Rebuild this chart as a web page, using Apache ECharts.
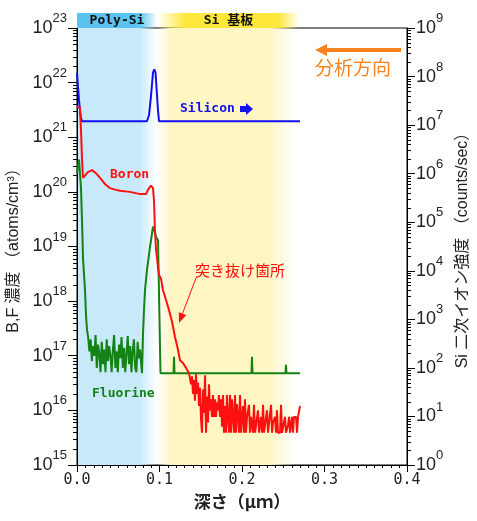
<!DOCTYPE html>
<html><head><meta charset="utf-8">
<script src="https://cdn.jsdelivr.net/npm/echarts@6/dist/echarts.min.js"></script>
<style>html,body{margin:0;padding:0;background:#fff}#c{width:477px;height:521px}</style>
</head><body><div id="c"></div>
<script>
// ---- data (depth in µm) ----
const siliconDepth = [0, 0.0012, 0.0024, 0.0036, 0.0048, 0.0061, 0.0848, 0.0873, 0.0897, 0.0921, 0.0937, 0.0952, 0.0970, 0.0982, 0.0994, 0.2703];
const siliconCounts = [1.18e8, 6.1e7, 3.3e7, 2.0e7, 1.4e7, 1.2e7, 1.2e7, 1.6e7, 4.0e7, 1.2e8, 1.4e8, 1.2e8, 4.0e7, 2.0e7, 1.2e7, 1.2e7];

const boronDepth = [0, 0.0036, 0.0048, 0.0061, 0.0073, 0.0097, 0.0133, 0.0182, 0.0230, 0.0279, 0.0339, 0.0400, 0.0461, 0.0521, 0.0642, 0.0764, 0.0836, 0.0861, 0.0897, 0.0921, 0.0933, 0.0945, 0.0958, 0.0970, 0.0982, 0.0994, 0.1018, 0.1042, 0.1079, 0.1115, 0.1152, 0.1188, 0.1224, 0.1248, 0.1285, 0.1321, 0.1358,
  0.1370, 0.1382, 0.1394, 0.1406, 0.1418, 0.1430, 0.1442, 0.1455, 0.1467, 0.1479, 0.1491, 0.1503, 0.1515, 0.1527, 0.1539, 0.1552, 0.1564, 0.1576, 0.1588, 0.1600, 0.1612, 0.1624, 0.1636, 0.1648, 0.1661, 0.1673, 0.1685, 0.1697, 0.1709, 0.1721, 0.1733, 0.1745, 0.1758, 0.1770, 0.1782, 0.1794, 0.1806, 0.1818, 0.1830, 0.1842, 0.1855, 0.1867, 0.1879, 0.1891, 0.1903, 0.1915, 0.1927, 0.1939, 0.1952, 0.1964, 0.1976, 0.1988, 0.2000, 0.2012, 0.2024, 0.2036, 0.2048, 0.2061, 0.2085, 0.2097, 0.2109, 0.2121, 0.2133, 0.2145, 0.2158, 0.2182, 0.2194, 0.2206, 0.2230, 0.2242, 0.2255, 0.2267, 0.2279, 0.2303, 0.2315, 0.2339, 0.2352, 0.2364, 0.2376, 0.2400, 0.2412, 0.2424, 0.2436, 0.2461, 0.2473, 0.2485, 0.2509, 0.2521, 0.2533, 0.2558, 0.2570, 0.2582, 0.2606, 0.2618, 0.2630, 0.2655, 0.2667, 0.2679, 0.2691, 0.2703];
const boronConc = [3.6e21, 3.5e21, 1.4e21, 3.9e20, 1.8e20, 1.95e20, 2.3e20, 2.5e20, 2.2e20, 1.8e20, 1.4e20, 1.17e20, 1.1e20, 1.05e20, 1.0e20, 9.1e19, 9.1e19, 1.1e20, 1.3e20, 1.17e20, 7.1e19, 2.0e19, 8.7e18, 6.2e18, 4.1e18, 3.0e18, 2.6e18, 1.6e18, 1.05e18, 6.9e17, 4.2e17, 2.2e17, 1.3e17, 8.3e16, 7.4e16, 6.0e16, 4.8e16,
  4.8e16, 3.0e16, 4.2e16, 2.0e16, 3.6e16, 1.5e16, 4.6e16, 2.0e16, 3.2e16, 1.2e16, 2.6e16, 7e15, 3.9e15, 2.4e16, 9e15, 4.4e16, 3.9e15, 1.8e16, 6e15, 3.0e16, 1.0e16, 1.6e16, 7.6e15, 1.9e16, 7.6e15, 1.6e16, 7.6e15, 1.4e16, 1.0e16, 1.9e16, 7.6e15, 1.6e16, 5e15, 1.9e16, 3.9e15, 1.2e16, 3.9e15, 1.9e16, 7.6e15, 3.9e15, 1.9e16, 3.9e15, 1.6e16, 7.6e15, 3.9e15, 1.9e16, 3.9e15, 1.3e16, 7.6e15, 3.9e15, 1.9e16, 3.9e15, 7.6e15, 1.2e16, 3.9e15, 1.6e16, 3.9e15, 7.6e15, 1.26e16, 3.9e15, 7.6e15, 7.6e15, 3.9e15, 1.26e16, 3.9e15, 3.9e15, 1.0e16, 3.9e15, 7.6e15, 3.9e15, 1.26e16, 3.9e15, 5.4e15, 1.0e16, 3.9e15, 3.9e15, 1.26e16, 3.9e15, 6e15, 7.6e15, 3.9e15, 1.0e16, 3.9e15, 3.9e15, 1.26e16, 3.9e15, 3.9e15, 7.6e15, 3.9e15, 5.4e15, 7.6e15, 3.9e15, 7.6e15, 3.9e15, 7.6e15, 7.6e15, 3.9e15, 7.6e15, 7.6e15, 1.2e16];

const fluorineDepth = [0, 0.0024, 0.0036, 0.0048, 0.0061, 0.0073, 0.0097, 0.0109, 0.0121,
  0.0135, 0.0150, 0.0165, 0.0180, 0.0195, 0.0210, 0.0225, 0.0240, 0.0255, 0.0270, 0.0285, 0.0300, 0.0315, 0.0330, 0.0345, 0.0360, 0.0375, 0.0390, 0.0405, 0.0420, 0.0435, 0.0450, 0.0465, 0.0480, 0.0495, 0.0510, 0.0525, 0.0540, 0.0555, 0.0570, 0.0585, 0.0600, 0.0615, 0.0630, 0.0645, 0.0660, 0.0675, 0.0690, 0.0705, 0.0720, 0.0735, 0.0750, 0.0765, 0.0778, 0.0788,
  0.0800, 0.0812, 0.0824, 0.0848, 0.0885, 0.0921, 0.0933, 0.0958, 0.0982, 0.1006, 0.1012,
  0.1170, 0.1176, 0.1182, 0.2115, 0.2121, 0.2127, 0.2527, 0.2533, 0.2539, 0.2703];
const fluorineConc = [2.2e20, 3.9e20, 3.9e20, 1.2e20, 3.0e19, 6.0e18, 1.6e18, 5.6e17, 3.0e17,
  2.2e17, 1.2e17, 2.0e17, 8e16, 1.5e17, 1.0e17, 2.4e17, 6e16, 1.6e17, 1.1e17, 5e16, 1.8e17, 7e16, 1.3e17, 5e16, 2.0e17, 8e16, 1.5e17, 1.0e17, 5e16, 1.3e17, 2.4e17, 6e16, 1.2e17, 5e16, 1.6e17, 9e16, 2.2e17, 6e16, 1.4e17, 5e16, 1.1e17, 2.3e17, 7e16, 1.5e17, 5e16, 1.2e17, 2.0e17, 6e16, 5e16, 1.8e17, 9e16, 1.3e17, 7e16, 4.8e16,
  2.5e17, 6.9e17, 1.6e18, 3.7e18, 9.8e18, 2.3e19, 2.1e19, 1.5e19, 1.3e19, 1.2e19, 4.8e16,
  4.8e16, 9.6e16, 4.8e16, 4.8e16, 9.6e16, 4.8e16, 4.8e16, 6.8e16, 4.8e16, 4.8e16];

const regionNames = ['Poly-Si', 'Si 基板'];
const regionBounds = [[0, 0.097], [0.097, 0.27]];
const bgBounds = [[0, 0.097], [0.097, 0.266]];

// ---- chart ----
const pairs = (xs, ys) => xs.map((x, i) => [x, ys[i]]);
const supFmt = v => '{b|10}{s|' + Math.round(Math.log10(v)) + '}';
const labelRich = {
  b: { fontSize: 18, fontFamily: 'Liberation Sans, Arial', lineHeight: 32, color: '#222' },
  s: { fontSize: 13, fontFamily: 'Liberation Sans, Arial', lineHeight: 14, verticalAlign: 'top', color: '#222' }
};
const hGrad = (stops) => ({ type: 'linear', x: 0, y: 0, x2: 1, y2: 0, colorStops: stops.map(s => ({ offset: s[0], color: s[1] })) });
const monoBold = 'DejaVu Sans Mono, Noto Sans CJK JP';

const chart = echarts.init(document.getElementById('c'), null, { renderer: 'canvas' });
chart.setOption({
  animation: false,
  backgroundColor: '#fff',
  grid: [
    { left: 77, right: 70, top: 28, bottom: 56, show: true, borderColor: '#000', borderWidth: 1, containLabel: false, outerBoundsMode: 'none' },
    { left: 77, right: 70, top: 13, height: 15, show: false, containLabel: false, outerBoundsMode: 'none' }
  ],
  xAxis: [
    { type: 'value', gridIndex: 0, min: 0, max: 0.4, interval: 0.1,
      name: '深さ（μｍ）', nameLocation: 'middle', nameGap: 24,
      nameTextStyle: { fontSize: 17, fontWeight: 'bold', fontFamily: 'Noto Sans CJK JP', color: '#222', verticalAlign: 'top' },
      axisLine: { lineStyle: { color: '#000', width: 1 } },
      axisTick: { show: true, inside: false, length: 7, lineStyle: { color: '#000' } },
      splitLine: { show: false },
      axisLabel: { margin: 8, fontSize: 15, fontFamily: 'DejaVu Sans Mono', color: '#222', formatter: v => v.toFixed(1) } },
    { type: 'value', gridIndex: 1, min: 0, max: 0.4, show: false }
  ],
  yAxis: [
    { type: 'log', logBase: 10, gridIndex: 0, min: 1e15, max: 1e23, interval: 1, position: 'left',
      name: 'B,F 濃度 （atoms/cm³）', nameLocation: 'middle', nameGap: 45, nameRotate: 90,
      nameTextStyle: { fontSize: 16, fontFamily: 'Liberation Sans, Noto Sans CJK JP', color: '#222' },
      axisLine: { show: true, lineStyle: { color: '#000' } },
      axisTick: { show: true, length: 9, lineStyle: { color: '#000' } },
      splitLine: { show: false },
      axisLabel: { margin: 10, formatter: supFmt, rich: labelRich } },
    { type: 'log', logBase: 10, gridIndex: 0, min: 1, max: 1e9, interval: 1, position: 'right',
      name: 'Si 二次イオン強度 （counts/sec）', nameLocation: 'middle', nameGap: 40, nameRotate: 90,
      nameTextStyle: { fontSize: 16, fontFamily: 'Liberation Sans, Noto Sans CJK JP', color: '#222' },
      axisLine: { show: true, lineStyle: { color: '#000' } },
      axisTick: { show: true, length: 8, lineStyle: { color: '#000' } },
      splitLine: { show: false },
      axisLabel: { margin: 9, formatter: supFmt, rich: labelRich } },
    { type: 'value', gridIndex: 1, min: 0, max: 1, show: false }
  ],
  series: [
    { type: 'line', xAxisIndex: 0, yAxisIndex: 0, data: [], z: 0, silent: true,
      markArea: { silent: true, z: 0, data: [
        [{ xAxis: bgBounds[0][0], itemStyle: { color: hGrad([[0, '#C8E9F9'], [0.78, '#C8E9F9'], [1, 'rgba(200,233,249,0)']]) } }, { xAxis: bgBounds[0][1] }],
        [{ xAxis: bgBounds[1][0], itemStyle: { color: hGrad([[0, 'rgba(255,246,196,0)'], [0.1, '#FFF6C4'], [0.8, '#FFF6C4'], [1, 'rgba(255,246,196,0)']]) } }, { xAxis: bgBounds[1][1] }]
      ] } },
    { type: 'line', xAxisIndex: 1, yAxisIndex: 2, data: [], silent: true,
      markArea: { silent: true, data: [
        [{ name: regionNames[0], xAxis: regionBounds[0][0], itemStyle: { color: hGrad([[0, '#5BC3EF'], [0.78, '#5BC3EF'], [1, 'rgba(91,195,239,0)']]) } }, { xAxis: regionBounds[0][1] }],
        [{ name: regionNames[1], xAxis: regionBounds[1][0], itemStyle: { color: hGrad([[0, 'rgba(255,232,58,0)'], [0.2, '#FFE83A'], [0.85, '#FFE83A'], [1, 'rgba(255,232,58,0)']]) } }, { xAxis: regionBounds[1][1] }]
      ], label: { show: true, position: 'inside', formatter: '{b}', fontSize: 13, fontWeight: 'bold', fontFamily: monoBold, color: '#111' } } },
    { name: 'Silicon', type: 'line', xAxisIndex: 0, yAxisIndex: 1, z: 3, symbol: 'none', data: pairs(siliconDepth, siliconCounts), lineStyle: { color: '#1010F0', width: 2 } },
    { name: 'Fluorine', type: 'line', xAxisIndex: 0, yAxisIndex: 0, z: 4, symbol: 'none', data: pairs(fluorineDepth, fluorineConc), lineStyle: { color: '#148214', width: 2 } },
    { name: 'Boron', type: 'line', xAxisIndex: 0, yAxisIndex: 0, z: 5, symbol: 'none', data: pairs(boronDepth, boronConc), lineStyle: { color: '#FF1010', width: 2 } }
  ]
});

// minor ticks (small filled rects) placed through the axes' own scales
const tickEls = [];
const addTick = (x, y, w, h) => {
  if ([x, y].every(Number.isFinite)) tickEls.push({ type: 'rect', z: 55, silent: true, shape: { x: x, y: y, width: w, height: h }, style: { fill: '#000' } });
};
const leftX = Math.round(chart.convertToPixel({ xAxisIndex: 0 }, 0));
const rightX = Math.round(chart.convertToPixel({ xAxisIndex: 0 }, 0.4));
const baseY = Math.round(chart.convertToPixel({ yAxisIndex: 0 }, 1e15));
for (let d = 15; d < 23; d++) for (let k = 2; k <= 9; k++) {
  const y = Math.round(chart.convertToPixel({ yAxisIndex: 0 }, k * Math.pow(10, d)));
  addTick(leftX - 4, y, 4, 1);
}
for (let d = 0; d < 9; d++) for (let k = 2; k <= 9; k++) {
  const y = Math.round(chart.convertToPixel({ yAxisIndex: 1 }, k * Math.pow(10, d)));
  addTick(rightX, y, 4, 1);
}
for (let i = 1; i < 40; i++) {
  if (i % 10 === 0) continue;
  const x = Math.round(chart.convertToPixel({ xAxisIndex: 0 }, i / 100));
  addTick(x, baseY, 1, 3);
}

const annot = [
  { type: 'text', left: 180, top: 102, style: { text: 'Silicon', font: 'bold 13px ' + monoBold, fill: '#1010F0' } },
  { type: 'polygon', shape: { points: [[240, 106], [246, 106], [246, 103], [253, 109], [246, 115], [246, 112], [240, 112]] }, style: { fill: '#1010F0' } },
  { type: 'text', left: 110, top: 168, style: { text: 'Boron', font: 'bold 13px ' + monoBold, fill: '#FF1010' } },
  { type: 'text', left: 92, top: 387, style: { text: 'Fluorine', font: 'bold 13px ' + monoBold, fill: '#148214' } },
  { type: 'text', left: 195, top: 263, style: { text: '突き抜け箇所', font: '15px Noto Sans CJK JP', fill: '#FF1010' } },
  { type: 'line', shape: { x1: 196, y1: 278, x2: 182.5, y2: 313.6 }, style: { stroke: '#FF1010', lineWidth: 1 } },
  { type: 'polygon', shape: { points: [[179, 323], [186.3, 315], [178.8, 312.2]] }, style: { fill: '#FF1010' } },
  { type: 'line', shape: { x1: 401, y1: 50, x2: 326, y2: 50 }, style: { stroke: '#F7821E', lineWidth: 4 } },
  { type: 'polygon', shape: { points: [[315, 50], [327, 44], [327, 56]] }, style: { fill: '#F7821E' } },
  { type: 'text', left: 315, top: 58, style: { text: '分析方向', font: '19px Noto Sans CJK JP', fill: '#F7821E' } }
].map(e => Object.assign({ z: 60, silent: true }, e));

chart.setOption({ graphic: { elements: annot.concat(tickEls) } });
</script></body></html>
